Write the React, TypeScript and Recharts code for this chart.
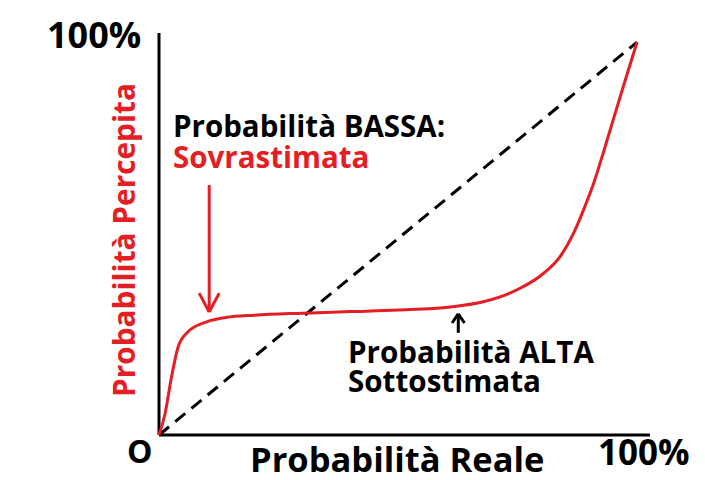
import { LineChart, Line, XAxis, YAxis, ReferenceLine } from "recharts";

// Probabilità reale (x) vs percepita (y), in %
const curveX = [0, 1.3, 2.5, 4, 6, 10, 14, 20, 30, 40, 50, 61, 67.8, 74.8, 80.4, 83.9, 86.7, 88.8, 90.9, 92.9, 95, 97.5, 100];
const curveY = [0, 5.6, 14, 22.4, 26.2, 28.8, 29.9, 30.5, 31, 31.4, 31.8, 32.6, 33.9, 36.9, 41.1, 45.4, 51.3, 57.3, 64, 71.7, 80.2, 90.2, 100];
const diagX = [0, 100];
const diagY = [0, 100];

const RED = "#e31e24";

const curve = curveX.map((x, i) => ({ x, y: curveY[i] }));
const diag = diagX.map((x, i) => ({ x, y: diagY[i] }));

// frecce di annotazione (coordinate nei dati)
const redArrow = { x: 10.5, from: 63.6, to: 31.3 };
const blackArrow = { x: 62.6, from: 26.0, to: 30.8 };

const Arrow = ({ x, from, to, color, dx, dy }: { x: number; from: number; to: number; color: string; dx: number; dy: number }) => {
    const dir = to > from ? -1 : 1;
    return (
        <>
            <ReferenceLine segment={[{ x, y: from }, { x, y: to }]} stroke={color} strokeWidth={3} />
            <ReferenceLine segment={[{ x: x - dx, y: to + dir * dy }, { x, y: to }]} stroke={color} strokeWidth={3} />
            <ReferenceLine segment={[{ x: x + dx, y: to + dir * dy }, { x, y: to }]} stroke={color} strokeWidth={3} />
        </>
    );
};

const font = { fontFamily: "'Open Sans', sans-serif", fontWeight: 700 };

export default function App() {
    return (
        <div style={{ position: "relative", width: 690, height: 472 }}>
            <LineChart width={690} height={470} data={curve} margin={{ top: 25, right: 48, bottom: 43, left: 151 }}>
                <XAxis type="number" dataKey="x" domain={[0, 102.7]} tick={false} tickLine={false} height={0} axisLine={false} />
                <YAxis type="number" domain={[0, 102.3]} tick={false} tickLine={false} width={0} axisLine={false} />
                {/* assi */}
                <ReferenceLine x={0} stroke="#000" strokeWidth={3} />
                <ReferenceLine y={0} stroke="#000" strokeWidth={3} />
                <Line data={diag} dataKey="y" type="linear" stroke="#000" strokeWidth={3} strokeDasharray="13 8" dot={false} isAnimationActive={false} />
                <Line data={curve} dataKey="y" type="monotone" stroke={RED} strokeWidth={3} dot={false} isAnimationActive={false} />
                {Arrow({ ...redArrow, color: RED, dx: 2.1, dy: 4.8 })}
                {Arrow({ ...blackArrow, color: "#000", dx: 1.3, dy: 2.3 })}
            </LineChart>
            <svg width={690} height={472} style={{ position: "absolute", left: 0, top: 0, pointerEvents: "none" }}>
                <g style={font}>
                    <text x={39} y={40} fontSize={36} fill="#000">100%</text>
                    <text x={127} y={232} fontSize={29.8} fill={RED} textAnchor="middle" transform="rotate(-90, 127, 232)">Probabilità Percepita</text>
                    <text x={165} y={129} fontSize={29.5} fill="#000">Probabilità BASSA:</text>
                    <text x={165} y={160} fontSize={29.5} fill={RED}>Sovrastimata</text>
                    <text x={340} y={355} fontSize={29.6} fill="#000">Probabilità ALTA</text>
                    <text x={340} y={384} fontSize={29.6} fill="#000">Sottostimata</text>
                    <text x={119} y={455} fontSize={32} fill="#000">O</text>
                    <text x={242} y={464} fontSize={34.5} fill="#000">Probabilità Reale</text>
                    <text x={590} y={457} fontSize={35} fill="#000">100%</text>
                </g>
            </svg>
        </div>
    );
}
